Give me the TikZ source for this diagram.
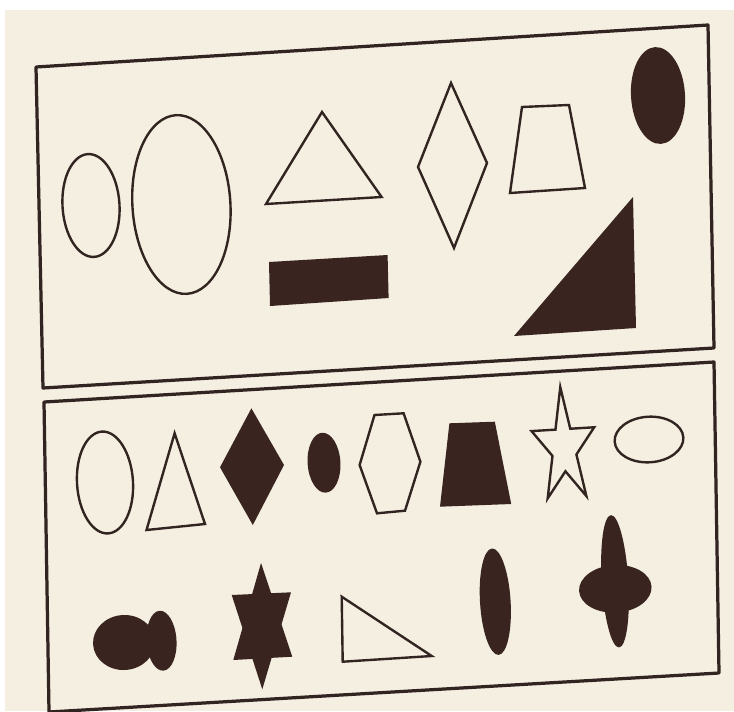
\documentclass[tikz,border=0pt]{standalone}
\usepackage{tikz}
\usetikzlibrary{calc}
\definecolor{paper}{RGB}{244,239,224}
\definecolor{ink}{RGB}{50,36,32}
\definecolor{blot}{RGB}{58,36,32}

\begin{document}
\begin{tikzpicture}[
    x=0.05cm, y=-0.05cm,
    panel/.style={draw=ink, line width=4.6pt, line join=round},
    outline/.style={draw=ink, line width=3.4pt, line join=miter},
    solid/.style={fill=blot}
]
\useasboundingbox (0,0) rectangle (734,711);
\fill[white] (0,0) rectangle (734,711);
\fill[paper] (5,10) rectangle (734,711);

% top panel
\draw[panel] (36,67) -- (708,25) -- (714,348) -- (43,388) -- cycle;
\draw[outline] (91,205.5) ellipse [x radius=28.5, y radius=51.5, rotate=3.5];
\draw[outline] (181.4,204.5) ellipse [x radius=49, y radius=89.5, rotate=3.5];
\draw[outline] (322,112) -- (381.6,197) -- (266,204) -- cycle;
\fill[solid] (269,262) -- (387.6,255) -- (388.6,298) -- (270,306) -- cycle;
\draw[outline] (451,83) -- (487,163) -- (454,248) -- (418,167) -- cycle;
\draw[outline] (522,107) -- (569,105) -- (585,188) -- (510,193) -- cycle;
\fill[solid] (658,95.5) ellipse [x radius=27, y radius=48.5, rotate=3.5];
\fill[solid] (633,197) -- (636,328) -- (514,336) -- cycle;

% bottom panel
\draw[panel] (44,402) -- (714,362) -- (719,673) -- (49,712) -- cycle;
\draw[outline] (105,482.5) ellipse [x radius=28, y radius=51, rotate=3.5];
\draw[outline] (174.6,433.3) -- (205,524) -- (146.5,530) -- cycle;
\fill[solid] (251.4,408.3) -- (284,465) -- (252.8,525) -- (220,467.3) -- cycle;
\fill[solid] (324,462.7) ellipse [x radius=16.4, y radius=30, rotate=3.5];
\draw[outline] (374.5,415) -- (403.6,413.3) -- (420.4,461.7) -- (405,510.7)
    -- (377,513.3) -- (359.6,465) -- cycle;
\fill[solid] (449.4,423.3) -- (494.8,421.7) -- (511.2,504) -- (440,506.7) -- cycle;
\begin{scope}[shift={(564,448)}, rotate=3.5]
  \draw[outline] (0,-61)
    \foreach \i [evaluate=\i as \r using {1-0.618*mod(\i,2)}] in {1,...,9}
      { -- ({\r*33*cos(90+36*\i)}, {-\r*61*sin(90+36*\i)}) } -- cycle;
\end{scope}
\draw[outline] (649,439.5) ellipse [x radius=34.4, y radius=22.8, rotate=3.5];

% bottom row
\fill[solid] (124,642.5) ellipse [x radius=31, y radius=27.5, rotate=3.5];
\fill[solid] (161.5,640.7) ellipse [x radius=15, y radius=30, rotate=3.5];
\fill[solid] (261,563) -- (292.3,656.7) -- (233.3,660) -- cycle;
\fill[solid] (262.3,689.3) -- (231.7,595) -- (291,592.3) -- cycle;
\draw[outline] (341.7,596.7) -- (431.7,656) -- (342.7,661.7) -- cycle;
\fill[solid] (495.3,601.7) ellipse [x radius=15.3, y radius=53.3, rotate=3.5];
\fill[solid] (615,581.3) ellipse [x radius=13.3, y radius=66.3, rotate=3.5];
\fill[solid] (615.3,588.8) ellipse [x radius=36.3, y radius=23.8, rotate=3.5];
\end{tikzpicture}
\end{document}
